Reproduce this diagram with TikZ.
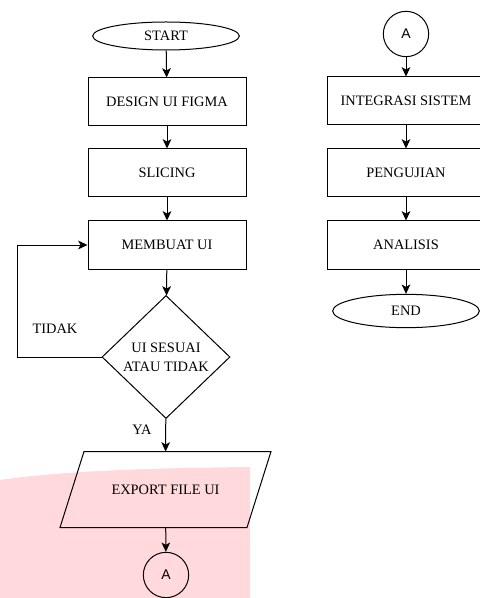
\documentclass[tikz,border=0pt]{standalone}
\usepackage{fontspec}
\setmainfont{Liberation Serif}
\newfontfamily\labelsans{Liberation Sans}
\usetikzlibrary{shapes.geometric,arrows.meta}

\tikzset{every picture/.style={line width=0.75pt}}
\tikzset{
  proc/.style={draw, rectangle, minimum width=118.5pt, minimum height=36pt, inner sep=0pt, font=\fontsize{10.8}{12}\selectfont},
  term/.style={draw, ellipse, minimum width=110pt, inner sep=0pt, font=\fontsize{10.8}{12}\selectfont},
  conn/.style={draw, circle, minimum size=34pt, inner sep=0pt, font=\labelsans\fontsize{10.5}{12}\selectfont},
  decide/.style={draw, diamond, minimum width=96pt, minimum height=92.25pt, inner sep=0pt, align=center, font=\fontsize{10.8}{14}\selectfont},
  io/.style={rectangle, minimum width=139.5pt, minimum height=56.25pt, inner sep=0pt, font=\fontsize{10.8}{12}\selectfont},
  arr/.style={-{Stealth[length=7pt,width=6.5pt,inset=1.8pt]}},
  lbl/.style={inner sep=0.75pt, font=\fontsize{10.8}{12}\selectfont}
}

\begin{document}
\begin{tikzpicture}[x=0.75pt,y=0.75pt,yscale=-1,xscale=1]
\useasboundingbox (0,0) rectangle (479,598);

%Shape: pink patch
\fill [fill={rgb, 255:red, 255; green, 217; blue, 219 }] (0,480) .. controls (60,471) and (150,468) .. (250,467) -- (250,598) -- (0,598) -- cycle ;

%Left column
\node (start) at (166,36) [term, minimum height=21pt] {START};
\node (design) at (167,102) [proc] {DESIGN UI FIGMA};
\node (slicing) at (167,173) [proc] {SLICING};
\node (membuat) at (167,245) [proc] {MEMBUAT UI};
\node (cek) at (166,357) [decide] {UI SESUAI\\ATAU TIDAK};
\node (export) at (165.5,489.5) [io] {EXPORT FILE UI};
\node (kiriA) at (166,575) [conn] {A};
\coordinate (balik) at (17,357);

%Shape: Parallelogram round export
\draw ([xshift=-9pt]export.south west) -- ([xshift=9pt]export.north west) -- ([xshift=9pt]export.north east) -- ([xshift=-9pt]export.south east) -- cycle ;

%Right column
\node (kananA) at (406,34) [conn] {A};
\node (integrasi) at (406,101) [proc] {INTEGRASI SISTEM};
\node (pengujian) at (406,173) [proc] {PENGUJIAN};
\node (analisis) at (406,245) [proc] {ANALISIS};
\node (end) at (406,311) [term, minimum height=25pt] {END};

%Connectors
\draw [arr] (start) -- (design);
\draw [arr] (design) -- (slicing);
\draw [arr] (slicing) -- (membuat);
\draw [arr] (membuat) -- (cek);
\draw [arr] (cek.west) -- (balik) |- (membuat.west);
\draw [arr] (cek) -- (export);
\draw [arr] (export) -- (kiriA);
\draw [arr] (kananA) -- (integrasi);
\draw [arr] (integrasi) -- (pengujian);
\draw [arr] (pengujian) -- (analisis);
\draw [arr] (analisis) -- (end);

% Text Node
\node (tidak) at (55,329) [lbl] {TIDAK};
% Text Node
\node (ya) at (142,430) [lbl] {YA};

\end{tikzpicture}
\end{document}
